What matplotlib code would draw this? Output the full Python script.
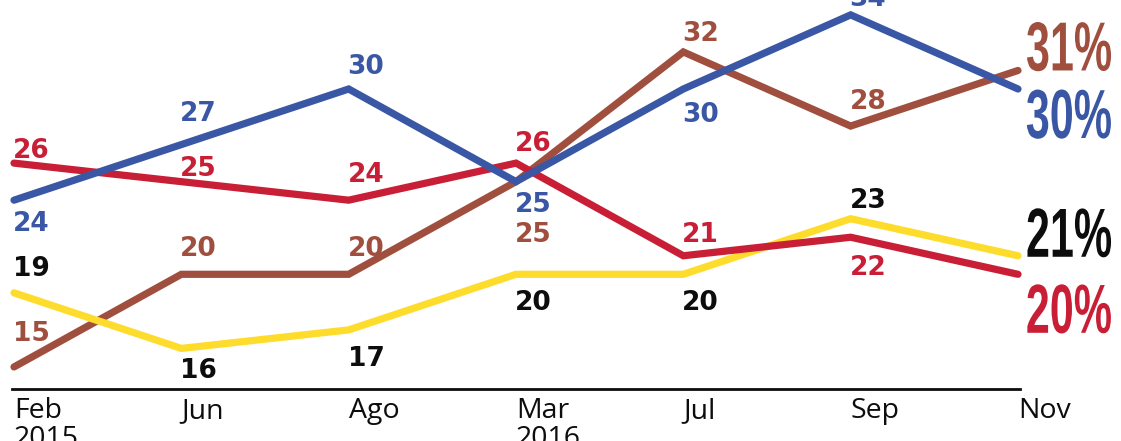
import matplotlib
matplotlib.use("Agg")
import matplotlib.pyplot as plt
from matplotlib.patheffects import AbstractPathEffect
from matplotlib.transforms import Affine2D

# ---------------- data ----------------
months = ["Feb\n2015", "Jun", "Ago", "Mar\n2016", "Jul", "Sep", "Nov"]
blue_vals = [24, 27, 30, 25, 30, 34, 30]
red_vals = [26, 25, 24, 26, 21, 22, 20]
brown_vals = [15, 20, 20, 25, 32, 28, 31]
yellow_vals = [19, 16, 17, 20, 20, 23, 21]
final_labels = ["31%", "30%", "21%", "20%"]

# ---------------- style / layout ----------------
BLUE = "#3a57a5"
RED = "#c91f36"
BROWN = "#a04f3f"
YELLOW = "#fedc2c"
BLACK = "#0d0d0d"

# vertical offsets (pixels, + = downwards) of each value label's centre
# from its point; None = no label
blue_off = [21, -33, -24.5, 20.5, 24, -18, None]
red_off = [-14.5, -15.5, -28, -22, -23.5, 28, None]
brown_off = [-35, -28, -28, 50.5, -20, -27, None]
yellow_off = [-26, 20, 27, 26, 26, -20, None]

series = [
    (brown_vals, BROWN, BROWN, brown_off),
    (yellow_vals, YELLOW, BLACK, yellow_off),
    (red_vals, RED, RED, red_off),
    (blue_vals, BLUE, BLUE, blue_off),
]


class SqueezeRight(AbstractPathEffect):
    """Draw text horizontally condensed about its right edge
    (the text stays a real Text artist)."""

    def __init__(self, sx):
        super().__init__()
        self.sx = sx

    def draw_path(self, renderer, gc, tpath, affine, rgbFace=None):
        x1 = tpath.get_extents().x1
        t = Affine2D().translate(-x1, 0).scale(self.sx, 1.0).translate(x1, 0) + affine
        renderer.draw_path(gc, tpath, t, rgbFace)


W, H = 1121, 441
fig = plt.figure(figsize=(W / 100, H / 100), dpi=100)
fig.patch.set_facecolor("white")

ax_left, ax_right, ax_bottom_px = 12, 1020, 389
ax = fig.add_axes([ax_left / W, (H - ax_bottom_px) / H,
                   (ax_right - ax_left) / W, ax_bottom_px / H])
ax.set_facecolor("none")

px_per_x = (1018 - 14) / 6.0
ax.set_xlim(-(14 - ax_left) / px_per_x, 6 + (ax_right - 1018) / px_per_x)
px_per_y = 18.53
ax.set_ylim(30 - (ax_bottom_px - 89) / px_per_y, 30 + 89 / px_per_y)

for s in ["top", "right", "left"]:
    ax.spines[s].set_visible(False)
ax.spines["bottom"].set_linewidth(2.0)
ax.spines["bottom"].set_color(BLACK)
ax.set_yticks([])

x = list(range(len(months)))
ax.set_xticks(x)
ax.set_xticklabels(months, ha="left", fontfamily=["Open Sans", "DejaVu Sans"],
                   fontsize=20.5, linespacing=1.0, color=BLACK)
ax.tick_params(axis="x", length=0, pad=6)

PT = 0.72  # points per pixel at 100 dpi
DIGIT_H = 19.0
label_font = dict(fontfamily=["DejaVu Sans"], fontweight="bold", fontsize=19)

for vals, lc, tc, offs in series:
    ax.plot(x, vals, color=lc, lw=5.2, solid_capstyle="round",
            solid_joinstyle="miter", clip_on=False, zorder=2)
    for i, (v, o) in enumerate(zip(vals, offs)):
        if o is None:
            continue
        base_px = o + DIGIT_H / 2
        ax.annotate(str(v), (i, v), xytext=(-1 * PT, -base_px * PT),
                    textcoords="offset points", ha="left", va="baseline",
                    color=tc, zorder=3, annotation_clip=False, **label_font)

# final big percentages at the right (right edge ~95 px right of last point)
finals = [
    (brown_vals[-1], final_labels[0], BROWN, 0),
    (blue_vals[-1], final_labels[1], BLUE, 49),
    (yellow_vals[-1], final_labels[2], BLACK, 1),
    (red_vals[-1], final_labels[3], RED, 58.5),
]
for v, txt, c, dy in finals:
    ax.annotate(txt, (6, v), xytext=(95 * PT, -dy * PT), textcoords="offset points",
                ha="right", va="baseline", color=c, fontsize=50,
                fontfamily=["Liberation Sans", "DejaVu Sans"], fontweight="bold",
                annotation_clip=False, path_effects=[SqueezeRight(0.62)])

fig.savefig("out.png", dpi=100, facecolor="white")
